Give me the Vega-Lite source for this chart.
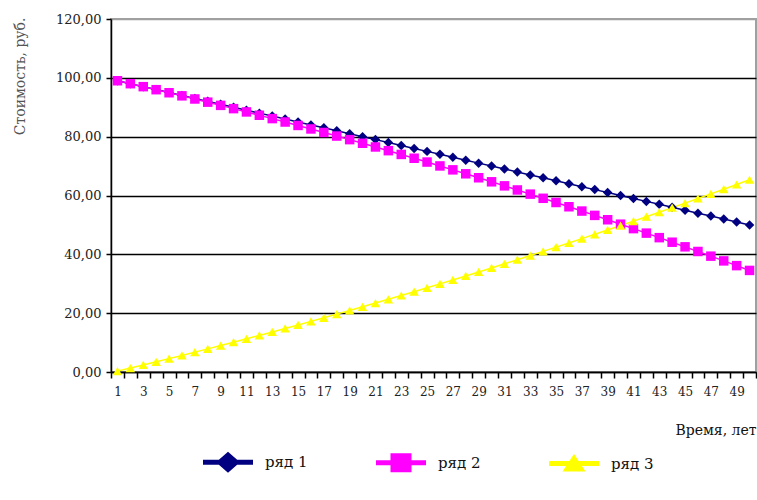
{
  "$schema": "https://vega.github.io/schema/vega-lite/v6.json",
  "width": 645,
  "height": 353,
  "autosize": "none",
  "padding": {"left": 111, "top": 19, "right": 1, "bottom": 128},
  "background": "white",
  "config": {
    "view": {"stroke": "#a0a0a0", "strokeWidth": 2},
    "font": "DejaVu Serif"
  },
  "data": {
    "values": [
      {"t": 1, "ряд 1": 99, "ряд 2": 99.01, "ряд 3": 0.30},
      {"t": 2, "ряд 1": 98, "ряд 2": 98.01, "ряд 3": 1.34},
      {"t": 3, "ряд 1": 97, "ряд 2": 97.00, "ряд 3": 2.40},
      {"t": 4, "ряд 1": 96, "ряд 2": 95.97, "ряд 3": 3.47},
      {"t": 5, "ряд 1": 95, "ряд 2": 94.93, "ряд 3": 4.55},
      {"t": 6, "ряд 1": 94, "ряд 2": 93.88, "ряд 3": 5.64},
      {"t": 7, "ряд 1": 93, "ряд 2": 92.81, "ряд 3": 6.75},
      {"t": 8, "ряд 1": 92, "ряд 2": 91.73, "ряд 3": 7.86},
      {"t": 9, "ряд 1": 91, "ряд 2": 90.64, "ряд 3": 8.99},
      {"t": 10, "ряд 1": 90, "ряд 2": 89.53, "ряд 3": 10.13},
      {"t": 11, "ряд 1": 89, "ряд 2": 88.41, "ряд 3": 11.28},
      {"t": 12, "ряд 1": 88, "ряд 2": 87.28, "ряд 3": 12.44},
      {"t": 13, "ряд 1": 87, "ряд 2": 86.14, "ряд 3": 13.62},
      {"t": 14, "ряд 1": 86, "ряд 2": 84.98, "ряд 3": 14.80},
      {"t": 15, "ряд 1": 85, "ряд 2": 83.81, "ряд 3": 16.00},
      {"t": 16, "ряд 1": 84, "ряд 2": 82.62, "ряд 3": 17.21},
      {"t": 17, "ряд 1": 83, "ряд 2": 81.42, "ряд 3": 18.43},
      {"t": 18, "ряд 1": 82, "ряд 2": 80.21, "ряд 3": 19.67},
      {"t": 19, "ряд 1": 81, "ряд 2": 78.99, "ряд 3": 20.91},
      {"t": 20, "ряд 1": 80, "ряд 2": 77.75, "ряд 3": 22.17},
      {"t": 21, "ряд 1": 79, "ряд 2": 76.50, "ряд 3": 23.44},
      {"t": 22, "ряд 1": 78, "ряд 2": 75.24, "ряд 3": 24.72},
      {"t": 23, "ряд 1": 77, "ряд 2": 73.96, "ряд 3": 26.01},
      {"t": 24, "ряд 1": 76, "ряд 2": 72.67, "ряд 3": 27.31},
      {"t": 25, "ряд 1": 75, "ряд 2": 71.37, "ряд 3": 28.63},
      {"t": 26, "ряд 1": 74, "ряд 2": 70.05, "ряд 3": 29.96},
      {"t": 27, "ряд 1": 73, "ряд 2": 68.72, "ряд 3": 31.30},
      {"t": 28, "ряд 1": 72, "ряд 2": 67.38, "ряд 3": 32.65},
      {"t": 29, "ряд 1": 71, "ряд 2": 66.03, "ряд 3": 34.01},
      {"t": 30, "ряд 1": 70, "ряд 2": 64.66, "ряд 3": 35.38},
      {"t": 31, "ряд 1": 69, "ряд 2": 63.28, "ряд 3": 36.77},
      {"t": 32, "ряд 1": 68, "ряд 2": 61.88, "ряд 3": 38.17},
      {"t": 33, "ряд 1": 67, "ряд 2": 60.47, "ряд 3": 39.58},
      {"t": 34, "ряд 1": 66, "ряд 2": 59.05, "ряд 3": 41.00},
      {"t": 35, "ряд 1": 65, "ряд 2": 57.62, "ряд 3": 42.44},
      {"t": 36, "ряд 1": 64, "ряд 2": 56.17, "ряд 3": 43.88},
      {"t": 37, "ряд 1": 63, "ряд 2": 54.71, "ряд 3": 45.34},
      {"t": 38, "ряд 1": 62, "ряд 2": 53.24, "ряд 3": 46.81},
      {"t": 39, "ряд 1": 61, "ряд 2": 51.75, "ряд 3": 48.29},
      {"t": 40, "ряд 1": 60, "ряд 2": 50.25, "ряд 3": 49.78},
      {"t": 41, "ряд 1": 59, "ряд 2": 48.74, "ряд 3": 51.28},
      {"t": 42, "ряд 1": 58, "ряд 2": 47.21, "ряд 3": 52.80},
      {"t": 43, "ряд 1": 57, "ряд 2": 45.67, "ряд 3": 54.33},
      {"t": 44, "ряд 1": 56, "ряд 2": 44.12, "ряд 3": 55.87},
      {"t": 45, "ряд 1": 55, "ряд 2": 42.55, "ряд 3": 57.42},
      {"t": 46, "ряд 1": 54, "ряд 2": 40.97, "ряд 3": 58.98},
      {"t": 47, "ряд 1": 53, "ряд 2": 39.38, "ряд 3": 60.56},
      {"t": 48, "ряд 1": 52, "ряд 2": 37.77, "ряд 3": 62.14},
      {"t": 49, "ряд 1": 51, "ряд 2": 36.16, "ряд 3": 63.74},
      {"t": 50, "ряд 1": 50, "ряд 2": 34.53, "ряд 3": 65.35}
    ]
  },
  "transform": [
    {"fold": ["ряд 1", "ряд 2", "ряд 3"], "as": ["series", "v"]}
  ],
  "encoding": {
    "x": {
      "field": "t",
      "type": "ordinal",
      "bandPosition": 0.5,
      "scale": {"type": "band", "paddingInner": 0, "paddingOuter": 0},
      "axis": {
        "title": "Время, лет",
        "titleFont": "DejaVu Serif",
        "titleFontSize": 14,
        "titleFontWeight": "normal",
        "titleColor": "#111",
        "titleX": 645,
        "titleY": 58,
        "titleAlign": "right",
        "titleBaseline": "middle",
        "labelAngle": 0,
        "labelFont": "DejaVu Serif",
        "labelFontSize": 12,
        "labelColor": "#222",
        "labelPadding": 8,
        "labelExpr": "datum.value % 2 == 1 ? datum.label : ''",
        "tickBand": "extent",
        "tickSize": 6,
        "tickColor": "#000",
        "tickWidth": 1.5,
        "domainColor": "#000",
        "domainWidth": 1.5,
        "grid": false
      }
    },
    "y": {
      "field": "v",
      "type": "quantitative",
      "scale": {"domain": [0, 120], "nice": false},
      "axis": {
        "title": "Стоимость, руб.",
        "titleFont": "DejaVu Serif",
        "titleFontSize": 14,
        "titleFontWeight": "normal",
        "titleColor": "#555",
        "titleAngle": -90,
        "titleX": -91,
        "titleY": -2,
        "titleAlign": "right",
        "titleBaseline": "middle",
        "values": [0, 20, 40, 60, 80, 100, 120],
        "labelExpr": "replace(format(datum.value, '.2f'), '.', ',')",
        "labelFont": "DejaVu Serif",
        "labelFontSize": 13,
        "labelColor": "#222",
        "labelPadding": 5,
        "tickSize": 5,
        "tickColor": "#000",
        "tickWidth": 1.5,
        "domainColor": "#000",
        "domainWidth": 1.5,
        "grid": true,
        "gridColor": {"condition": {"test": "datum.value == 120", "value": "#a0a0a0"}, "value": "#000"},
        "gridWidth": 1.6
      }
    }
  },
  "layer": [
    {
      "mark": {"type": "line", "strokeWidth": 1.5},
      "encoding": {
        "color": {
          "field": "series",
          "type": "nominal",
          "scale": {"domain": ["ряд 1", "ряд 2", "ряд 3"], "range": ["#000080", "#FF00FF", "#FFFF00"]},
          "legend": null
        }
      }
    },
    {
      "mark": {"type": "point", "filled": true, "opacity": 1, "size": 90},
      "encoding": {
        "color": {"field": "series", "type": "nominal", "legend": null},
        "shape": {
          "field": "series",
          "type": "nominal",
          "scale": {"domain": ["ряд 1", "ряд 2", "ряд 3"], "range": ["diamond", "square", "triangle-up"]},
          "legend": null
        }
      }
    },
    {
      "transform": [{"filter": "false"}],
      "mark": {"type": "point", "filled": true, "opacity": 1},
      "encoding": {
        "color": {
          "field": "series",
          "type": "nominal",
          "legend": {
            "title": null,
            "orient": "none",
            "legendX": 92,
            "legendY": 418,
            "direction": "horizontal",
            "columns": 3,
            "symbolSize": 2500,
            "symbolStrokeWidth": 0,
            "labelFont": "DejaVu Serif",
            "labelFontSize": 15,
            "labelColor": "#111",
            "labelOffset": 12,
            "columnPadding": 68
          }
        },
        "shape": {
          "field": "series",
          "type": "nominal",
          "scale": {
            "domain": ["ряд 1", "ряд 2", "ряд 3"],
            "range": [
              "M-1,-0.1H1V0.1H-1Z M-0.48,0L0,-0.42L0.48,0L0,0.42Z",
              "M-1,-0.1H1V0.1H-1Z M-0.42,-0.38H0.42V0.38H-0.42Z",
              "M-1,-0.1H1V0.1H-1Z M-0.46,0.32L0,-0.38L0.46,0.32Z"
            ]
          },
          "legend": {
            "title": null,
            "orient": "none",
            "legendX": 92,
            "legendY": 418,
            "direction": "horizontal",
            "columns": 3,
            "symbolSize": 2500,
            "symbolStrokeWidth": 0,
            "labelFont": "DejaVu Serif",
            "labelFontSize": 15,
            "labelColor": "#111",
            "labelOffset": 12,
            "columnPadding": 68
          }
        }
      }
    }
  ],
  "resolve": {
    "scale": {"shape": "independent"},
    "legend": {"color": "independent", "shape": "independent"}
  }
}
